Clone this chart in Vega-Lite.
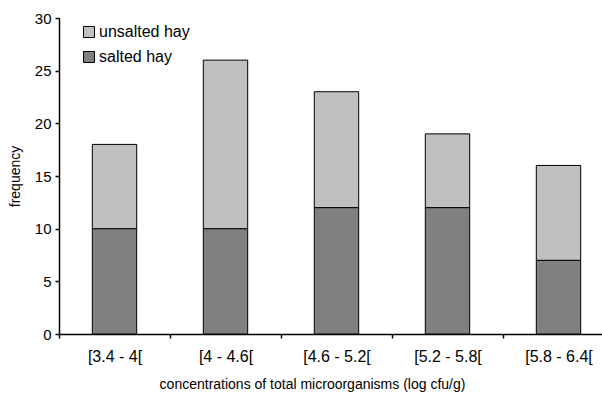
{
  "$schema": "https://vega.github.io/schema/vega-lite/v6.json",
  "autosize": "none",
  "width": 555,
  "height": 316,
  "padding": {"left": 59, "top": 18, "right": 0, "bottom": 60},
  "background": "white",
  "config": {
    "view": {"stroke": null},
    "font": "Liberation Sans",
    "axis": {"domainColor": "black", "domainWidth": 1.5, "tickColor": "black", "tickWidth": 1.5, "labelColor": "black", "titleColor": "black", "labelFont": "Liberation Sans", "titleFont": "Liberation Sans", "titleFontWeight": "normal", "labelFontSize": 15, "titleFontSize": 14, "tickSize": 4, "grid": false}
  },
  "data": {"values": [
    {"bin": "[3.4 - 4[", "type": "salted hay", "n": 10},
    {"bin": "[3.4 - 4[", "type": "unsalted hay", "n": 8},
    {"bin": "[4 - 4.6[", "type": "salted hay", "n": 10},
    {"bin": "[4 - 4.6[", "type": "unsalted hay", "n": 16},
    {"bin": "[4.6 - 5.2[", "type": "salted hay", "n": 12},
    {"bin": "[4.6 - 5.2[", "type": "unsalted hay", "n": 11},
    {"bin": "[5.2 - 5.8[", "type": "salted hay", "n": 12},
    {"bin": "[5.2 - 5.8[", "type": "unsalted hay", "n": 7},
    {"bin": "[5.8 - 6.4[", "type": "salted hay", "n": 7},
    {"bin": "[5.8 - 6.4[", "type": "unsalted hay", "n": 9}
  ]},
  "mark": {"type": "bar", "stroke": "black", "strokeWidth": 1, "width": {"band": 0.4}},
  "encoding": {
    "x": {"field": "bin", "type": "nominal", "sort": null,
      "scale": {"paddingInner": 0, "paddingOuter": 0},
      "axis": {"title": "concentrations of total microorganisms (log cfu/g)", "labelAngle": 0, "labelFontSize": 16, "tickBand": "extent", "labelPadding": 10, "titlePadding": 13, "titleX": 253}},
    "y": {"field": "n", "type": "quantitative", "stack": "zero",
      "scale": {"domain": [0, 30], "nice": false},
      "axis": {"title": "frequency", "values": [0, 5, 10, 15, 20, 25, 30], "labelPadding": 4, "titlePadding": 12}},
    "color": {"field": "type", "type": "nominal",
      "scale": {"domain": ["unsalted hay", "salted hay"], "range": ["#c0c0c0", "#808080"]},
      "legend": {"title": null, "orient": "none", "legendX": 22, "legendY": 6, "symbolType": "square", "symbolSize": 121, "symbolStrokeColor": "black", "symbolStrokeWidth": 1, "symbolOpacity": 1, "labelFontSize": 16, "labelColor": "black", "labelOffset": 2, "rowPadding": 9}},
    "order": {"field": "type", "sort": "ascending"}
  }
}
